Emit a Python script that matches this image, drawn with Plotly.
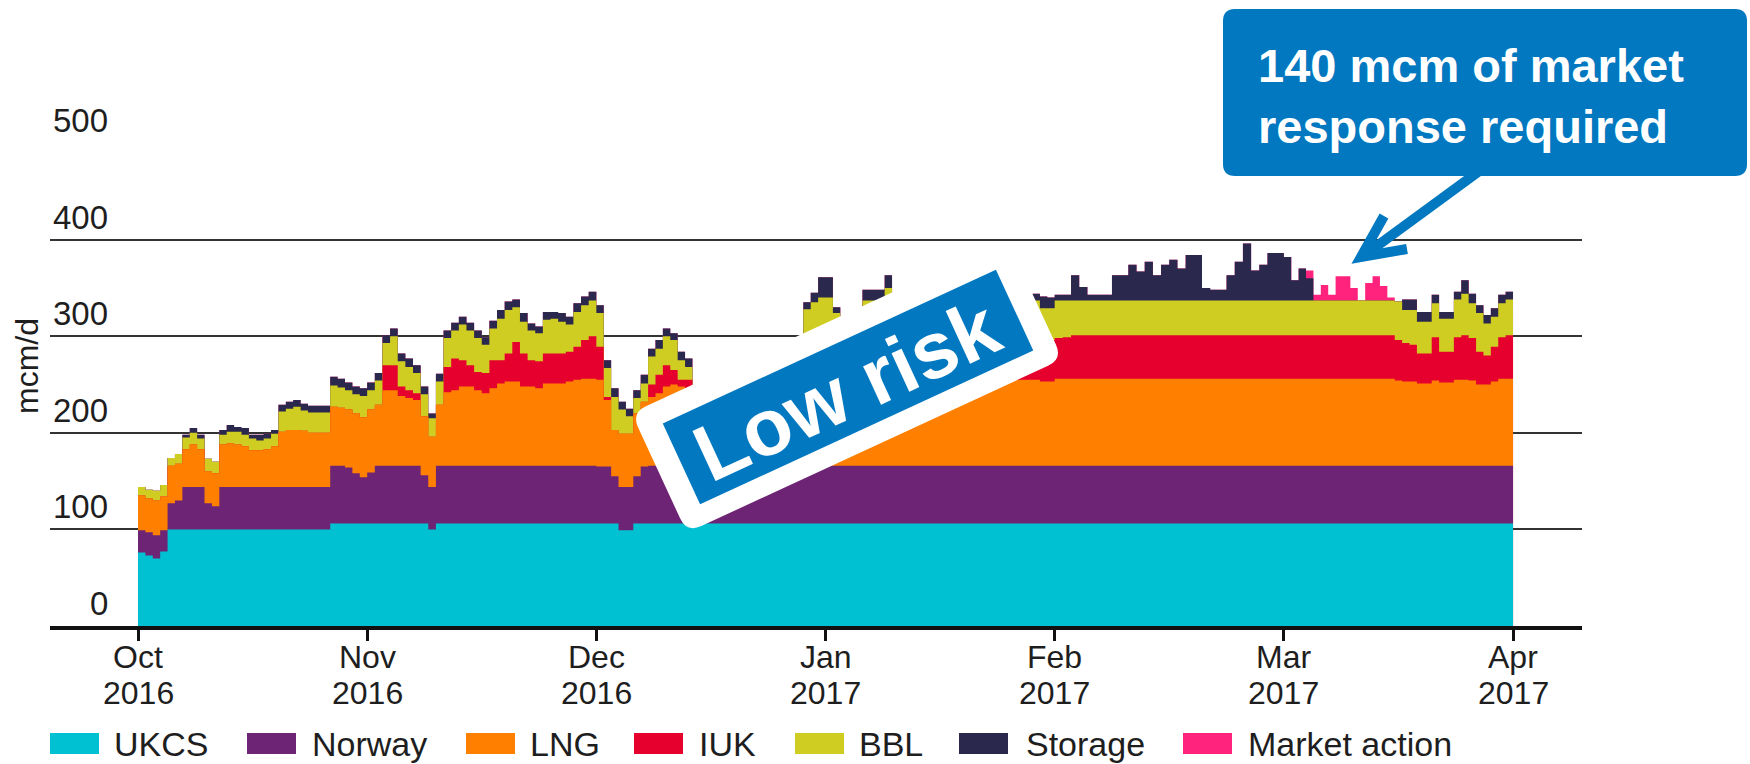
import math
import numpy as np
import pandas as pd
import plotly.graph_objects as go

FONT = "Liberation Sans, Arial, Helvetica, sans-serif"
TXT = "#1e1e1e"
BLUE = "#0178C0"

# ---------------- data (daily, 1 Oct 2016 .. 31 Mar 2017) ----------------
start_date = "2016-10-01"
end_date = "2017-03-31"
month_names = ["Oct", "Nov", "Dec", "Jan", "Feb", "Mar", "Apr"]
month_years = ["2016", "2016", "2016", "2017", "2017", "2017", "2017"]
y_tick_values = [0, 100, 200, 300, 400, 500]
series_names = ["UKCS", "Norway", "LNG", "IUK", "BBL", "Storage", "Market action"]
series_colors = ["#00C1D1", "#6E2474", "#FF8000", "#E6002E", "#CFCD22", "#2A284C", "#FF237E"]

ukcs = [
    # Oct
    76, 73, 70, 77, 100, 100, 100, 100, 100, 100,
    100, 100, 100, 100, 100, 100, 100, 100, 100, 100,
    100, 100, 100, 100, 100, 100, 106, 106, 106, 106,
    106,
    # Nov
    106, 106, 106, 106, 106, 106, 106, 106, 100, 106,
    106, 106, 106, 106, 106, 106, 106, 106, 106, 106,
    106, 106, 106, 106, 106, 106, 106, 106, 106, 106,
    # Dec
    106, 106, 106, 99, 99, 106, 106, 106, 106, 106,
    106, 106, 106, 106, 106, 106, 106, 106, 106, 106,
    106, 106, 106, 106, 106, 106, 106, 106, 106, 106,
    106,
    # Jan
    106, 106, 106, 106, 106, 106, 106, 106, 106, 106,
    106, 106, 106, 106, 106, 106, 106, 106, 106, 106,
    106, 106, 106, 106, 106, 106, 106, 106, 106, 106,
    106,
    # Feb
    106, 106, 106, 106, 106, 106, 106, 106, 106, 106,
    106, 106, 106, 106, 106, 106, 106, 106, 106, 106,
    106, 106, 106, 106, 106, 106, 106, 106,
    # Mar
    106, 106, 106, 106, 106, 106, 106, 106, 106, 106,
    106, 106, 106, 106, 106, 106, 106, 106, 106, 106,
    106, 106, 106, 106, 106, 106, 106, 106, 106, 106,
    106,
]

norway = [
    # Oct
    23, 24, 24, 22, 27, 30, 44, 44, 44, 27,
    24, 44, 44, 44, 44, 44, 44, 44, 44, 44,
    44, 44, 44, 44, 44, 44, 60, 60, 58, 52,
    48,
    # Nov
    53, 60, 60, 60, 60, 60, 60, 50, 44, 60,
    60, 60, 60, 60, 60, 60, 60, 60, 60, 60,
    60, 60, 60, 60, 60, 60, 60, 60, 60, 60,
    # Dec
    59, 59, 49, 45, 45, 49, 59, 60, 60, 60,
    60, 60, 60, 60, 60, 60, 60, 60, 60, 60,
    60, 60, 60, 60, 60, 60, 60, 60, 60, 60,
    60,
    # Jan
    60, 60, 60, 60, 60, 60, 60, 60, 60, 60,
    60, 60, 60, 60, 60, 60, 60, 60, 60, 60,
    60, 60, 60, 60, 60, 60, 60, 60, 60, 60,
    60,
    # Feb
    60, 60, 60, 60, 60, 60, 60, 60, 60, 60,
    60, 60, 60, 60, 60, 60, 60, 60, 60, 60,
    60, 60, 60, 60, 60, 60, 60, 60,
    # Mar
    60, 60, 60, 60, 60, 60, 60, 60, 60, 60,
    60, 60, 60, 60, 60, 60, 60, 60, 60, 60,
    60, 60, 60, 60, 60, 60, 60, 60, 60, 60,
    60,
]

lng = [
    # Oct
    36, 35, 36, 35, 39, 38, 39, 44, 39, 33,
    34, 44, 45, 44, 42, 38, 38, 39, 42, 57,
    59, 59, 58, 56, 56, 56, 61, 60, 60, 62,
    62,
    # Nov
    65, 63, 78, 78, 72, 70, 68, 61, 52, 63,
    76, 78, 82, 82, 78, 75, 80, 85, 87, 87,
    82, 82, 80, 85, 85, 85, 87, 89, 90, 90,
    # Dec
    90, 69, 48, 55, 55, 65, 67, 71, 75, 82,
    84, 82, 80, 52, 52, 54, 55, 56, 58, 60,
    62, 64, 65, 66, 68, 70, 71, 72, 84, 88,
    90,
    # Jan
    90, 88, 86, 86, 87, 89, 89, 89, 90, 90,
    90, 90, 90, 90, 90, 90, 90, 90, 90, 90,
    90, 90, 90, 90, 90, 90, 89, 89, 89, 87,
    87,
    # Feb
    90, 90, 90, 90, 90, 90, 90, 90, 90, 90,
    90, 90, 90, 90, 90, 90, 90, 90, 90, 90,
    90, 90, 90, 90, 90, 90, 90, 90,
    # Mar
    90, 90, 90, 90, 90, 90, 90, 90, 90, 90,
    90, 90, 90, 90, 90, 88, 87, 87, 85, 85,
    88, 86, 86, 89, 89, 88, 84, 84, 87, 90,
    90,
]

iuk = [
    # Oct
    0, 0, 0, 0, 0, 0, 0, 0, 0, 0,
    0, 0, 0, 0, 0, 0, 0, 0, 0, 0,
    0, 0, 0, 0, 0, 0, 0, 0, 0, 0,
    0,
    # Nov
    0, 0, 26, 26, 10, 8, 7, 0, 0, 0,
    26, 33, 27, 22, 19, 21, 29, 24, 29, 41,
    34, 27, 28, 31, 31, 31, 31, 34, 40, 44,
    # Dec
    34, 3, 0, 0, 0, 0, 0, 13, 19, 22,
    15, 7, 9, 0, 2, 4, 6, 8, 8, 10,
    12, 14, 15, 16, 18, 20, 22, 24, 45, 44,
    44,
    # Jan
    44, 44, 40, 40, 41, 43, 43, 43, 44, 44,
    44, 44, 44, 44, 44, 44, 44, 44, 44, 44,
    44, 44, 44, 44, 44, 44, 43, 43, 43, 43,
    43,
    # Feb
    42, 43, 45, 45, 45, 45, 45, 45, 45, 45,
    45, 45, 45, 45, 45, 45, 45, 45, 45, 45,
    45, 45, 45, 45, 45, 45, 45, 45,
    # Mar
    45, 45, 45, 45, 45, 45, 45, 45, 45, 45,
    45, 45, 45, 45, 45, 42, 40, 38, 31, 31,
    45, 32, 32, 44, 46, 44, 34, 30, 36, 43,
    45,
]

bbl = [
    # Oct
    9, 9, 10, 12, 8, 10, 12, 12, 11, 13,
    12, 10, 12, 13, 12, 12, 10, 11, 13, 21,
    22, 24, 21, 21, 21, 21, 22, 21, 20, 20,
    22,
    # Nov
    20, 25, 23, 30, 26, 24, 21, 23, 19, 24,
    30, 29, 37, 36, 35, 29, 33, 43, 45, 36,
    33, 31, 29, 35, 36, 33, 28, 36, 36, 37,
    # Dec
    35, 30, 34, 25, 18, 16, 19, 29, 27, 30,
    31, 20, 13, 16, 16, 16, 16, 16, 16, 16,
    17, 18, 18, 19, 20, 20, 21, 22, 33, 37,
    40,
    # Jan
    40, 26, 18, 18, 24, 39, 39, 39, 50, 37,
    35, 33, 37, 37, 37, 37, 37, 37, 37, 37,
    37, 37, 37, 37, 37, 35, 35, 35, 39, 33,
    33,
    # Feb
    39, 38, 36, 36, 36, 36, 36, 36, 36, 36,
    36, 36, 36, 36, 36, 36, 36, 36, 36, 36,
    36, 36, 36, 36, 36, 36, 36, 36,
    # Mar
    36, 36, 36, 36, 36, 36, 36, 36, 36, 36,
    36, 36, 36, 36, 36, 40, 34, 36, 33, 33,
    35, 34, 34, 39, 43, 36, 40, 33, 31, 35,
    37,
]

storage = [
    # Oct
    0, 0, 0, 0, 0, 0, 3, 5, 4, 0,
    0, 5, 7, 5, 7, 4, 6, 5, 4, 7,
    7, 7, 7, 7, 7, 7, 9, 9, 8, 8,
    8,
    # Nov
    8, 8, 8, 8, 8, 9, 8, 8, 5, 8,
    8, 8, 8, 8, 8, 8, 8, 9, 9, 8,
    9, 7, 7, 8, 7, 9, 8, 9, 9, 9,
    # Dec
    8, 8, 9, 8, 8, 8, 9, 8, 9, 8,
    7, 9, 9, 6, 6, 6, 6, 6, 6, 6,
    6, 6, 6, 6, 6, 6, 6, 6, 7, 10,
    21,
    # Jan
    21, 6, 8, 8, 7, 11, 11, 11, 13, 8,
    5, 5, 8, 13, 15, 11, 18, 23, 18, 13,
    15, 11, 8, 13, 11, 10, 10, 10, 7, 12,
    11,
    # Feb
    6, 6, 26, 14, 6, 6, 6, 26, 26, 37,
    30, 40, 26, 37, 42, 33, 47, 47, 13, 11,
    11, 26, 40, 59, 31, 37, 49, 49,
    # Mar
    45, 21, 33, 23, 0, 0, 0, 0, 0, 0,
    0, 0, 0, 0, 0, 0, 11, 11, 10, 10,
    9, 7, 7, 8, 14, 10, 8, 9, 9, 9,
    8,
]

market_action = [
    # Oct
    0, 0, 0, 0, 0, 0, 0, 0, 0, 0,
    0, 0, 0, 0, 0, 0, 0, 0, 0, 0,
    0, 0, 0, 0, 0, 0, 0, 0, 0, 0,
    0,
    # Nov
    0, 0, 0, 0, 0, 0, 0, 0, 0, 0,
    0, 0, 0, 0, 0, 0, 0, 0, 0, 0,
    0, 0, 0, 0, 0, 0, 0, 0, 0, 0,
    # Dec
    0, 0, 0, 0, 0, 0, 0, 0, 0, 0,
    0, 0, 0, 0, 0, 0, 0, 0, 0, 0,
    0, 0, 0, 0, 0, 0, 0, 0, 0, 0,
    0,
    # Jan
    0, 0, 0, 0, 0, 0, 0, 0, 0, 0,
    0, 0, 0, 0, 0, 0, 0, 0, 0, 0,
    0, 0, 0, 0, 0, 0, 0, 0, 0, 0,
    0,
    # Feb
    0, 0, 0, 0, 0, 0, 0, 0, 0, 0,
    0, 0, 0, 0, 0, 0, 0, 0, 0, 0,
    0, 0, 0, 0, 0, 0, 0, 0,
    # Mar
    0, 0, 0, 8, 6, 16, 6, 25, 25, 13,
    0, 18, 25, 15, 3, 0, 0, 0, 0, 0,
    0, 0, 0, 0, 0, 0, 0, 0, 0, 0,
    0,
]

# ---------------- geometry helpers (figure pixels -> paper) ----------------
W_FIG, H_FIG = 1750, 764
ML, MR, MT, MB = 50, 168, 142, 138
PW = W_FIG - ML - MR
PH = H_FIG - MT - MB


def px(x):
    return (x - ML) / PW


def py(y):
    return (H_FIG - MB - y) / PH


def P(x, y):
    return f"{px(x):.5f},{py(y):.5f}"


def rounded_path(corners, r):
    n = len(corners)
    parts = []
    for i in range(n):
        cx, cy = corners[i]
        ax, ay = corners[i - 1]
        bx, by = corners[(i + 1) % n]
        da = math.hypot(ax - cx, ay - cy)
        db = math.hypot(bx - cx, by - cy)
        p1 = (cx + (ax - cx) * r / da, cy + (ay - cy) * r / da)
        p2 = (cx + (bx - cx) * r / db, cy + (by - cy) * r / db)
        parts.append(("L" if i else "M") + P(*p1) + " Q" + P(cx, cy) + " " + P(*p2))
    return " ".join(parts) + " Z"


def rot_rect(cx, cy, w, h, ang_deg):
    a = math.radians(ang_deg)
    ux, uy = math.cos(a), -math.sin(a)
    vx, vy = math.sin(a), math.cos(a)
    hw, hh = w / 2, h / 2
    return [
        (cx - hw * ux - hh * vx, cy - hw * uy - hh * vy),
        (cx + hw * ux - hh * vx, cy + hw * uy - hh * vy),
        (cx + hw * ux + hh * vx, cy + hw * uy + hh * vy),
        (cx - hw * ux + hh * vx, cy - hw * uy + hh * vy),
    ]


def poly_path(corners):
    return "M" + " L".join(P(*c) for c in corners) + " Z"


# ---------------- build figure ----------------
dates = pd.date_range(start_date, end_date, freq="D")
layers = [ukcs, norway, lng, iuk, bbl, storage, market_action]
for name, arr in zip(series_names, layers):
    assert len(arr) == len(dates), (name, len(arr))

month_index = (dates.year - 2016) * 12 + dates.month - 10
xpos = np.asarray(month_index + (dates.day - 1) / dates.days_in_month, dtype=float)
xpos = np.append(xpos, 6.0)  # end of the last daily step (1 Apr)

tops = np.cumsum(np.array(layers, dtype=float), axis=0)

fig = go.Figure()
for i in reversed(range(len(layers))):
    yv = np.append(tops[i], tops[i][-1])
    fig.add_trace(go.Scatter(
        x=xpos, y=yv, name=series_names[i], mode="lines",
        line=dict(width=0, shape="hv"), fill="tozeroy",
        fillcolor=series_colors[i], hoverinfo="skip", showlegend=False,
    ))

shapes = []
annotations = []

# y tick labels (sit above their gridlines, right-aligned)
for v in y_tick_values:
    annotations.append(dict(
        x=px(110), xref="paper", y=v, yref="y", xanchor="right", yanchor="bottom",
        yshift=2, text=str(v), showarrow=False,
        font=dict(family=FONT, size=33, color=TXT),
    ))

# x tick labels: month on one line, year underneath (tight line spacing)
for i, (m, yr) in enumerate(zip(month_names, month_years)):
    annotations.append(dict(
        x=i, xref="x", y=py(657), yref="paper", text=m, showarrow=False,
        xanchor="center", yanchor="middle",
        font=dict(family=FONT, size=32, color=TXT),
    ))
    annotations.append(dict(
        x=i, xref="x", y=py(693), yref="paper", text=yr, showarrow=False,
        xanchor="center", yanchor="middle",
        font=dict(family=FONT, size=32, color=TXT),
    ))

# y axis title
annotations.append(dict(
    x=px(27), y=py(366), xref="paper", yref="paper", text="mcm/d", textangle=-90,
    showarrow=False, xanchor="center", yanchor="middle",
    font=dict(family=FONT, size=32, color=TXT),
))

# legend (custom)
leg_swatch_x = [50, 247, 466, 634, 795, 959, 1183]
leg_text_x = [112, 310, 528, 697, 857, 1024, 1246]
for i, name in enumerate(series_names):
    x0 = leg_swatch_x[i]
    shapes.append(dict(type="rect", xref="paper", yref="paper",
                       x0=px(x0), x1=px(x0 + 49), y0=py(754), y1=py(733),
                       fillcolor=series_colors[i], line=dict(width=0)))
    annotations.append(dict(
        x=px(leg_text_x[i]), y=py(744), xref="paper", yref="paper", text=name,
        showarrow=False, xanchor="left", yanchor="middle",
        font=dict(family=FONT, size=34, color=TXT),
    ))

# "Low risk" rotated label
ANG = 24.8
shapes.append(dict(type="path", xref="paper", yref="paper",
                   path=rounded_path(rot_rect(847, 386, 414, 132, ANG), 16),
                   fillcolor="white", line=dict(width=0), layer="above"))
shapes.append(dict(type="path", xref="paper", yref="paper",
                   path=poly_path(rot_rect(848, 387, 367, 89, ANG)),
                   fillcolor=BLUE, line=dict(width=0), layer="above"))
annotations.append(dict(
    x=px(846), y=py(390), xref="paper", yref="paper", text="<b>Low risk</b>",
    textangle=-ANG, showarrow=False, xanchor="center", yanchor="middle",
    font=dict(family=FONT, size=80, color="white"),
))

# callout box + arrow
shapes.append(dict(type="path", xref="paper", yref="paper",
                   path=rounded_path([(1223, 9), (1747, 9), (1747, 176), (1223, 176)], 12),
                   fillcolor=BLUE, line=dict(width=0), layer="above"))
shapes.append(dict(type="path", xref="paper", yref="paper",
                   path="M" + P(1478, 172) + " L" + P(1366, 254),
                   line=dict(color=BLUE, width=10), layer="above"))
shapes.append(dict(type="path", xref="paper", yref="paper",
                   path="M" + P(1384, 216) + " L" + P(1361, 257) + " L" + P(1407, 249),
                   line=dict(color=BLUE, width=10), layer="above"))
annotations.append(dict(
    x=px(1256), y=py(96), xref="paper", yref="paper",
    text="<b>140 mcm of market<br>response required</b>",
    showarrow=False, xanchor="left", yanchor="middle", align="left",
    font=dict(family=FONT, size=47, color="white"),
))

fig.update_layout(
    width=W_FIG, height=H_FIG,
    margin=dict(l=ML, r=MR, t=MT, b=MB, pad=0),
    paper_bgcolor="white", plot_bgcolor="white",
    showlegend=False,
    shapes=shapes, annotations=annotations,
    font=dict(family=FONT, color=TXT),
    xaxis=dict(
        range=[-0.384, 6.301], showgrid=False, zeroline=False,
        showline=True, linecolor="#111111", linewidth=4,
        ticks="outside", ticklen=11, tickwidth=3, tickcolor="#111111",
        tickvals=list(range(len(month_names))), showticklabels=False,
    ),
    yaxis=dict(
        range=[0, 501], showgrid=True, gridcolor="#333333", gridwidth=2,
        tickvals=y_tick_values[1:], showticklabels=False, ticks="",
        zeroline=False, showline=False,
    ),
)

fig.write_html(
    "out.html",
    config={"displayModeBar": False},
    post_script="document.body.style.margin='0';document.body.style.overflow='hidden';",
)
